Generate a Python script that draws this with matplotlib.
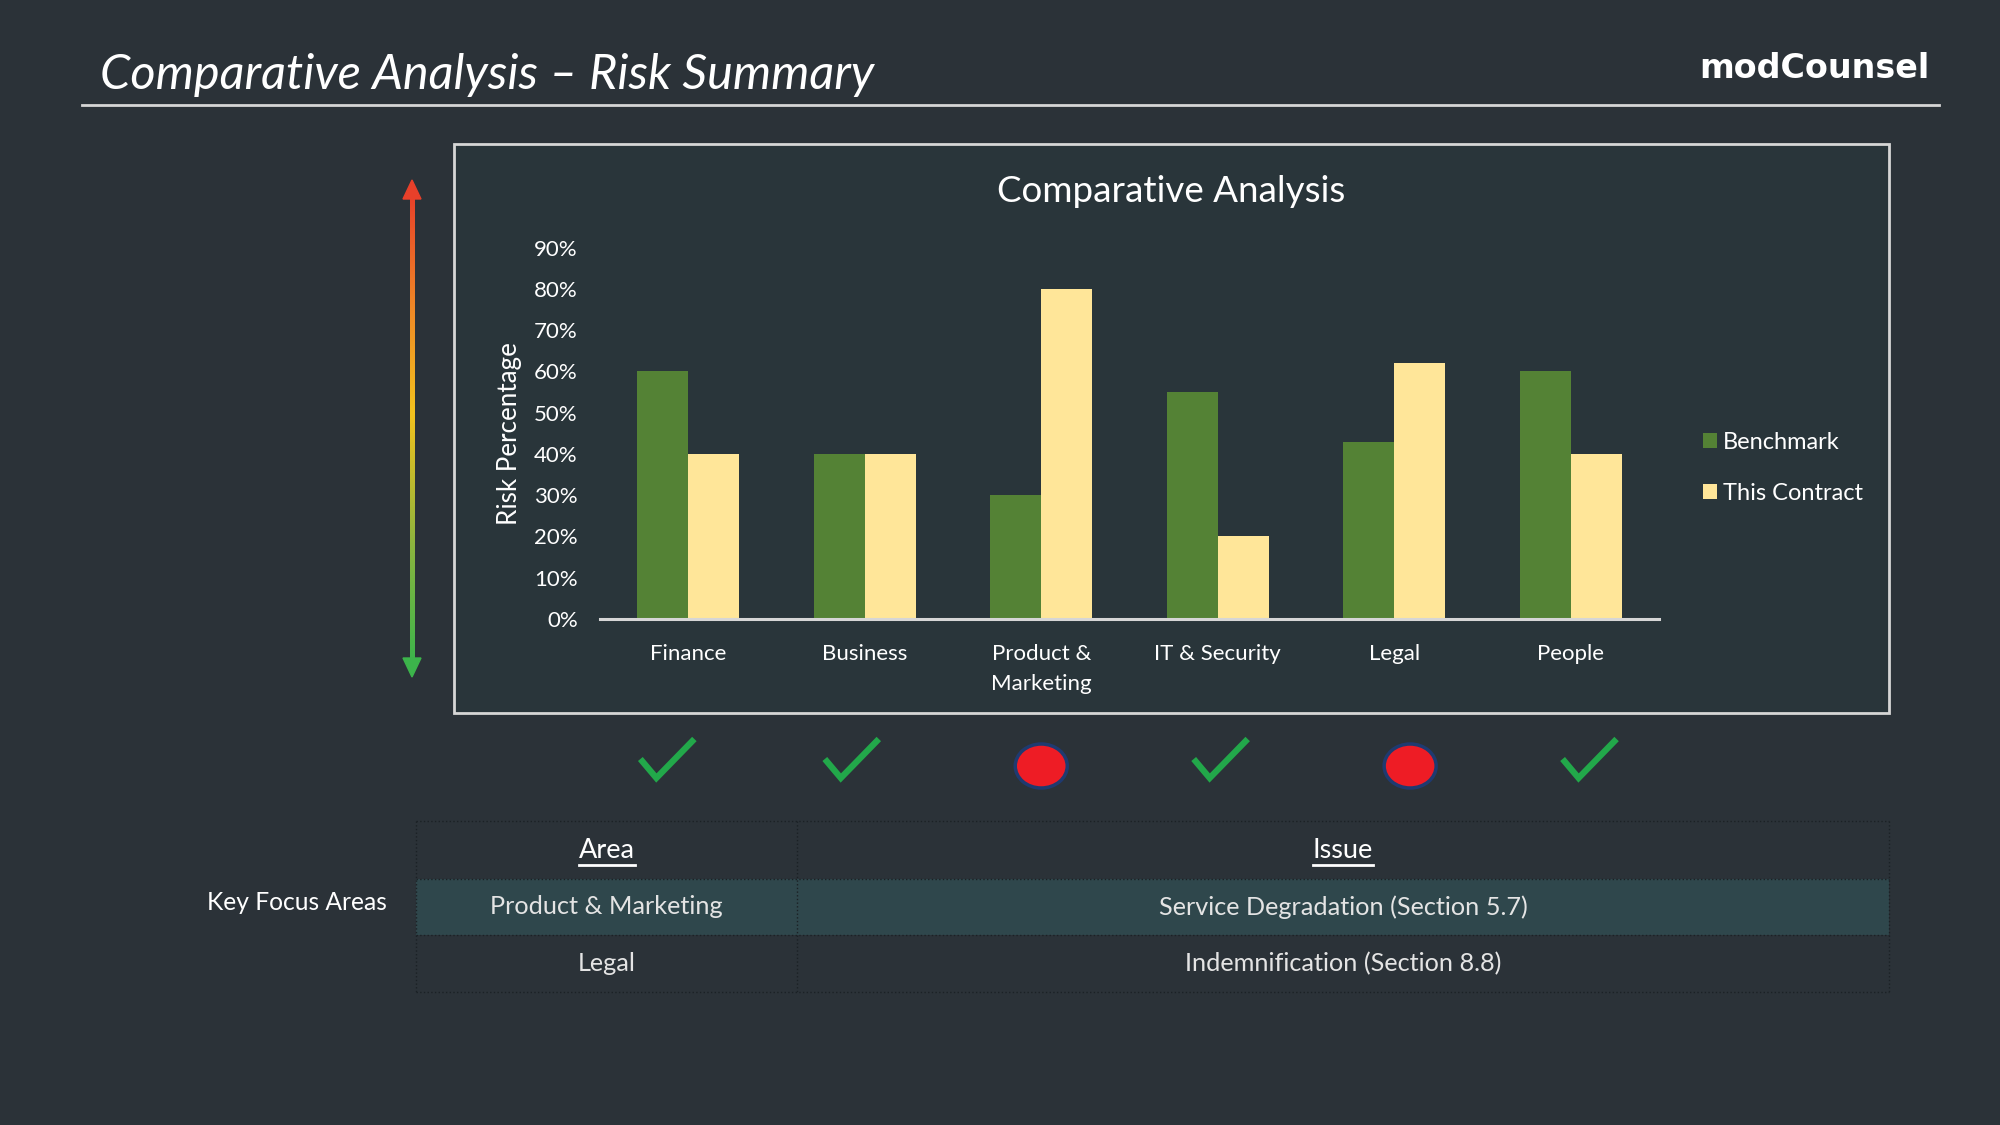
import matplotlib
matplotlib.use('Agg')
import matplotlib.pyplot as plt
import numpy as np
from matplotlib.patches import Rectangle, Ellipse, Polygon
from matplotlib.colors import LinearSegmentedColormap
from matplotlib.lines import Line2D

# ---------------- data ----------------
categories = ['Finance', 'Business', 'Product &\nMarketing', 'IT & Security', 'Legal', 'People']
benchmark = [60, 40, 30, 55, 43, 60]
this_contract = [40, 40, 80, 20, 62, 40]
series_names = ['Benchmark', 'This Contract']
status = ['ok', 'ok', 'risk', 'ok', 'risk', 'ok']
y_ticks = [0, 10, 20, 30, 40, 50, 60, 70, 80, 90]
y_tick_labels = [f'{v}%' for v in y_ticks]
table_header = ['Area', 'Issue']
table_rows = [['Product & Marketing', 'Service Degradation (Section 5.7)'],
              ['Legal', 'Indemnification (Section 8.8)']]

# ---------------- style ----------------
BG = '#2b3238'
BOX_BG = '#29353a'
GREEN = '#548235'
YELLOW = '#ffe699'
LIGHT = '#d6d6d6'
FONT = 'Lato'

W, H = 2000, 1125
fig = plt.figure(figsize=(20, 11.25), dpi=100)
fig.patch.set_facecolor(BG)

# overlay axes in pixel coordinates (y downwards)
ov = fig.add_axes([0, 0, 1, 1])
ov.axis('off')

# page title + logo + rule
ov.text(100, 89, 'Comparative Analysis – Risk Summary', fontsize=35, style='italic',
        family=FONT, color='white', ha='left', va='baseline')
ov.text(1929, 68, 'modCounsel', fontsize=24, fontweight='bold', family='DejaVu Sans',
        color='white', ha='right', va='center')
ov.plot([82, 1939], [105, 105], color=LIGHT, lw=2)

# chart box
ov.add_patch(Rectangle((454, 144), 1435, 569, facecolor=BOX_BG, edgecolor=LIGHT, lw=2))
ov.text(1171, 191, 'Comparative Analysis', fontsize=26.5, family=FONT, color='white',
        ha='center', va='center')

# gradient arrow
cmap = LinearSegmentedColormap.from_list('risk', [(0, '#e8402a'), (0.25, '#ef8a26'),
                                                  (0.47, '#f2c21e'), (0.75, '#8cb43e'),
                                                  (1, '#3cb44b')])
grad = cmap(np.linspace(0, 1, 256))[:, None, :]
ov.imshow(grad, extent=(409.5, 414.5, 662, 194), aspect='auto', origin='upper', zorder=2)
ov.add_patch(Polygon([[403, 199], [421, 199], [412, 180]], closed=True, color='#e8402a', zorder=3))
ov.add_patch(Polygon([[403, 658], [421, 658], [412, 677]], closed=True, color='#3cb44b', zorder=3))

# Key focus table
tl, tr, tdiv = 416, 1889, 797
row_y = [821, 879, 935, 992]
ov.add_patch(Rectangle((tl, row_y[1]), tr - tl, row_y[2] - row_y[1], facecolor='#2f474c',
                       edgecolor='none'))
bcol = '#1b2125'
for yy in row_y:
    ov.plot([tl, tr], [yy, yy], color=bcol, lw=1, ls=':')
for xx in [tl, tdiv, tr]:
    ov.plot([xx, xx], [row_y[0], row_y[-1]], color=bcol, lw=1, ls=':')

col_cx = [(tl + tdiv) / 2, (tdiv + tr) / 2]
hdr_texts = []
for cx, h in zip(col_cx, table_header):
    t = ov.text(cx, (row_y[0] + row_y[1]) / 2, h, fontsize=19.5, family=FONT, color='white',
                ha='center', va='center')
    hdr_texts.append(t)
for r, row in enumerate(table_rows):
    cy = (row_y[r + 1] + row_y[r + 2]) / 2
    for cx, val in zip(col_cx, row):
        ov.text(cx, cy, val, fontsize=18.2, family=FONT, color='#e4e4e4', ha='center', va='center')
ov.text(207, 903, 'Key Focus Areas', fontsize=17.7, family=FONT, color='white',
        ha='left', va='center')

ov.set_xlim(0, W)
ov.set_ylim(H, 0)

# underline header text
renderer = fig.canvas.get_renderer()
for t in hdr_texts:
    bb = t.get_window_extent(renderer=renderer)
    ov.plot([bb.x0, bb.x1], [H - bb.y0 + 2, H - bb.y0 + 2], color='white', lw=2)

# ---------------- bar chart ----------------
ax = fig.add_axes([600 / W, 1 - 619 / H, 1059 / W, (619 - 247.5) / H])
ax.set_facecolor('none')
x = np.arange(len(categories))
w = 0.29
ax.bar(x - w / 2, benchmark, w, color=GREEN, label=series_names[0], zorder=2)
ax.bar(x + w / 2, this_contract, w, color=YELLOW, label=series_names[1], zorder=2)
ax.set_xlim(-0.5, len(categories) - 0.5)
ax.set_ylim(0, 90)
ax.set_yticks(y_ticks)
ax.set_yticklabels(y_tick_labels)
ax.set_xticks(x)
ax.set_xticklabels(categories, linespacing=1.6)
for s in ['top', 'right', 'left']:
    ax.spines[s].set_visible(False)
ax.spines['bottom'].set_color(LIGHT)
ax.spines['bottom'].set_linewidth(2.2)
ax.spines['bottom'].set_zorder(3)
ax.tick_params(axis='both', length=0, colors='white', labelsize=16)
ax.tick_params(axis='y', pad=16)
ax.tick_params(axis='x', pad=18)
for lab in ax.get_xticklabels() + ax.get_yticklabels():
    lab.set_family(FONT)
ax.set_ylabel('Risk Percentage', fontsize=18.7, family=FONT, color='white')
ax.yaxis.set_label_coords(-0.074, 0.5)

leg = fig.legend(loc='upper left', bbox_to_anchor=(1703 / W, 1 - 432 / H), frameon=False,
                 handlelength=0.6, handleheight=0.6, handletextpad=0.25, labelspacing=1.25,
                 borderpad=0, borderaxespad=0, prop={'family': FONT, 'size': 17})
for t in leg.get_texts():
    t.set_color('white')

# status icons under each category
for i, st in enumerate(status):
    cx_data = 2 + (i - 2) * 1.045
    cx = ax.transData.transform((cx_data, 0))[0]
    if st == 'ok':
        cx -= 5
        ov.add_line(Line2D([cx - 27, cx - 11, cx + 27], [759, 778, 739], color='#22a84a',
                           lw=4.5, solid_joinstyle='miter', solid_capstyle='butt'))
    else:
        ov.add_patch(Ellipse((cx, 766), 52, 44, facecolor='#ee1c25', edgecolor='#1f3a70', lw=2.5))

fig.savefig('out.png', dpi=100, facecolor=BG)
